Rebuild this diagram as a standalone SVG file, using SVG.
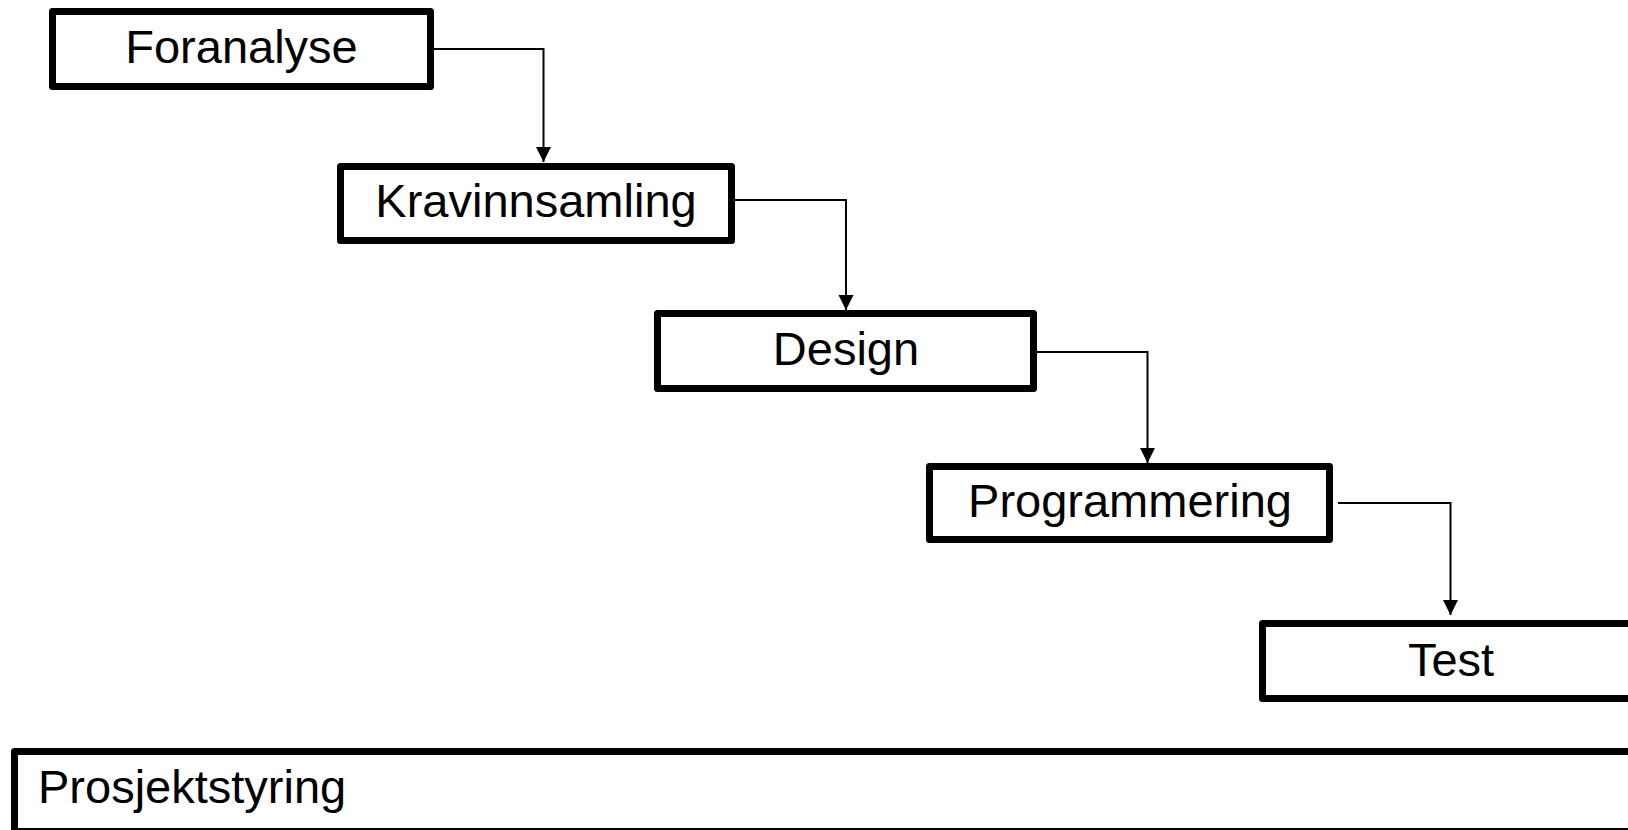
<svg xmlns="http://www.w3.org/2000/svg" width="1628" height="830" viewBox="0 0 1628 830">
<style>
.box{fill:#fff;stroke:#000;stroke-width:7;stroke-linejoin:round}
.lbl{font-family:"Liberation Sans",Arial,sans-serif;font-size:47px;fill:#000}
.mid{text-anchor:middle}
.conn{fill:none;stroke:#000;stroke-width:2}
</style>
<defs>
<marker id="arr" markerUnits="userSpaceOnUse" markerWidth="16" markerHeight="16" refX="15" refY="8" orient="auto">
<path d="M0,0.5 L15,8 L0,15.5 Z" fill="#000"/>
</marker>
</defs>
<rect width="1628" height="830" fill="#fff"/>
<g id="connectors">
<polyline class="conn" points="434,49 543.5,49 543.5,162" marker-end="url(#arr)"/>
<polyline class="conn" points="735,200 846,200 846,310" marker-end="url(#arr)"/>
<polyline class="conn" points="1037,352 1147.5,352 1147.5,463" marker-end="url(#arr)"/>
<polyline class="conn" points="1338,503 1450.5,503 1450.5,615" marker-end="url(#arr)"/>
</g>
<g id="foranalyse">
<rect class="box" x="52.5" y="11.5" width="378" height="75"/>
<text class="lbl mid" x="241.5" y="63">Foranalyse</text>
</g>
<g id="kravinnsamling">
<rect class="box" x="340.5" y="166.5" width="391" height="74"/>
<text class="lbl mid" x="536" y="217">Kravinnsamling</text>
</g>
<g id="design">
<rect class="box" x="657.5" y="313.5" width="376" height="75"/>
<text class="lbl mid" x="846" y="365">Design</text>
</g>
<g id="programmering">
<rect class="box" x="929.5" y="466.5" width="400" height="73"/>
<text class="lbl mid" x="1130" y="517">Programmering</text>
</g>
<g id="test">
<rect class="box" x="1262.5" y="623.5" width="380" height="75"/>
<text class="lbl mid" x="1451" y="676">Test</text>
</g>
<g id="prosjektstyring">
<rect class="box" x="14.5" y="751.5" width="1630" height="80"/>
<text class="lbl" x="38" y="803">Prosjektstyring</text>
</g>
</svg>
